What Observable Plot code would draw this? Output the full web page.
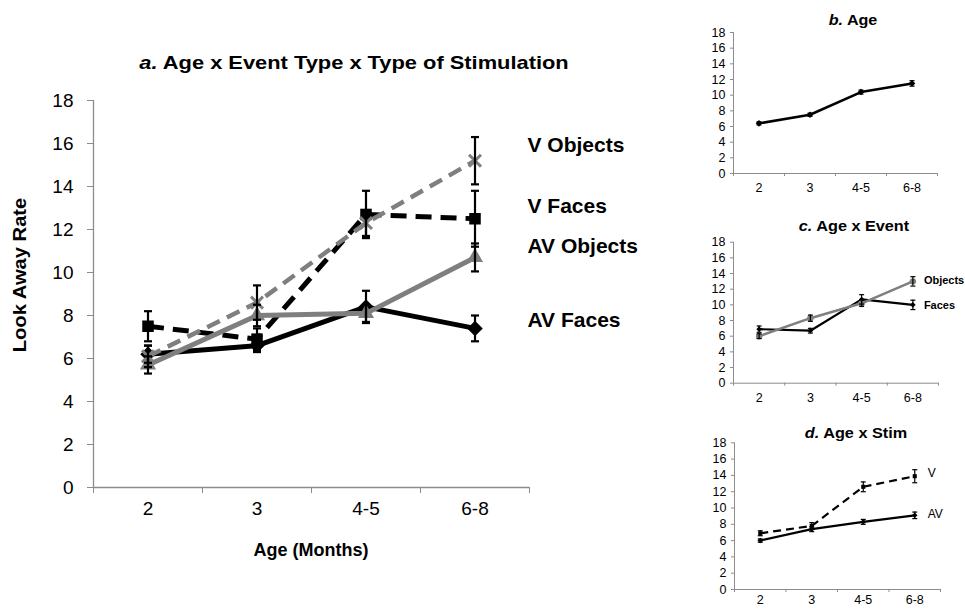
<!DOCTYPE html>
<html><head><meta charset="utf-8">
<script src="https://cdn.jsdelivr.net/npm/d3@7"></script>
<script src="https://cdn.jsdelivr.net/npm/@observablehq/plot@0.6"></script>
<style>
body{margin:0;background:#fff;font-family:"Liberation Sans",Arial,sans-serif;}
#root{position:relative;width:965px;height:610px;overflow:hidden;background:#fff;}
.p{position:absolute;}
.t{position:absolute;font-weight:bold;white-space:nowrap;color:#000;font-family:"Liberation Sans",Arial,sans-serif;line-height:1;}
svg{overflow:visible;}
svg text{font-family:"Liberation Sans",Arial,sans-serif;}
g[aria-label$="tick label"]{fill:#000;}
</style></head><body><div id="root"></div>
<script>
// ---------- data ----------
const ages = ["2", "3", "4-5", "6-8"];
const yTicks = [0, 2, 4, 6, 8, 10, 12, 14, 16, 18];

// a. Age x Event Type x Type of Stimulation
const seriesA = ["AV Faces", "V Faces", "AV Objects", "V Objects"];
const avFaces = [6.2, 6.6, 8.4, 7.4];
const avFacesErr = [0.4, 0.3, 0.75, 0.6];
const vFaces = [7.5, 6.9, 12.7, 12.5];
const vFacesErr = [0.7, 0.5, 1.1, 1.3];
const avObjects = [5.7, 8.0, 8.1, 10.7];
const avObjectsErr = [0.4, 0.5, 0.4, 0.65];
const vObjects = [6.1, 8.6, 12.3, 15.2];
const vObjectsErr = [0.5, 0.8, 0.6, 1.1];
const labelYA = [7.8, 13.1, 11.2, 15.9];

// b. Age
const seriesB = ["Age"];
const ageMeans = [6.4, 7.5, 10.4, 11.5];
const ageErr = [0.2, 0.2, 0.25, 0.35];

// c. Age x Event
const seriesC = ["Faces", "Objects"];
const eventFaces = [6.9, 6.7, 10.7, 10.0];
const eventFacesErr = [0.4, 0.3, 0.6, 0.6];
const eventObjects = [6.0, 8.3, 10.2, 13.0];
const eventObjectsErr = [0.3, 0.4, 0.4, 0.6];
const labelYC = [9.9, 13.1];

// d. Age x Stim
const seriesD = ["AV", "V"];
const stimAV = [6.0, 7.4, 8.3, 9.1];
const stimAVErr = [0.2, 0.3, 0.3, 0.4];
const stimV = [6.9, 7.8, 12.6, 13.9];
const stimVErr = [0.3, 0.4, 0.6, 0.8];
const labelYD = [9.2, 14.3];

// ---------- helpers ----------
const root = document.getElementById("root");
const cap = {draw(ctx, size) { const r = Math.sqrt(size / Math.PI); ctx.moveTo(-r, 0); ctx.lineTo(r, 0); }};

function rows(names, vals, errs) {
  return names.flatMap((s, k) => vals[k].map((v, i) => ({series: s, xi: i, y: v, err: errs[k][i]})));
}

function place(node, left, top) {
  const d = document.createElement("div");
  d.className = "p"; d.style.left = left + "px"; d.style.top = top + "px";
  d.appendChild(node); root.appendChild(d);
}
function text(html, css) {
  const d = document.createElement("div");
  d.className = "t"; d.innerHTML = html;
  Object.assign(d.style, css); root.appendChild(d);
}

function panel(cfg) {
  const data = rows(cfg.series, cfg.vals, cfg.errs);
  const marks = [
    Plot.ruleX([-0.5], {stroke: "#8c8c8c", strokeWidth: cfg.axisW}),
    Plot.ruleY([0], {stroke: "#8c8c8c", strokeWidth: cfg.axisW}),
    Plot.axisY({ticks: yTicks, tickSize: cfg.tickSize, tickPadding: cfg.yPad, fontSize: cfg.font, color: "#8c8c8c", label: null}),
    Plot.axisX({ticks: [-0.5, 0.5, 1.5, 2.5, 3.5], tickFormat: () => "", tickSize: cfg.tickSize, color: "#8c8c8c", label: null}),
    Plot.axisX({ticks: [0, 1, 2, 3], tickFormat: i => ages[i], tickSize: 0, tickPadding: cfg.xPad, fontSize: cfg.font, label: null})
  ];
  cfg.series.forEach((s, k) => {
    const st = cfg.styles[k];
    const d = data.filter(r => r.series === s);
    marks.push(Plot.line(d, {x: "xi", y: "y", stroke: st.stroke, strokeWidth: st.w, strokeDasharray: st.dash || null, strokeLinejoin: "round", strokeLinecap: st.dash ? "butt" : "round"}));
    if (st.symbol) {
      const stroked = st.symbol === "times" || st.symbol === "plus";
      marks.push(Plot.dot(d, {x: "xi", y: "y", symbol: () => st.symbol, r: st.r,
        fill: stroked ? "none" : st.stroke, stroke: stroked ? st.stroke : "none", strokeWidth: st.sw || 2}));
    }
  });
  marks.push(Plot.ruleX(data, {x: "xi", y1: d => d.y - d.err, y2: d => d.y + d.err, stroke: cfg.errColor, strokeWidth: cfg.errW}));
  marks.push(Plot.dot(data, {x: "xi", y: d => d.y - d.err, symbol: () => cap, r: cfg.capR, stroke: cfg.errColor, strokeWidth: cfg.errW, fill: "none"}));
  marks.push(Plot.dot(data, {x: "xi", y: d => d.y + d.err, symbol: () => cap, r: cfg.capR, stroke: cfg.errColor, strokeWidth: cfg.errW, fill: "none"}));
  if (cfg.labels) {
    marks.push(Plot.text(cfg.series.map((s, k) => ({s, y: cfg.labelY[k]})), {
      x: () => cfg.labelX, y: "y", text: "s", textAnchor: "start", dx: cfg.labelDx,
      fontSize: cfg.labelFont, fontWeight: cfg.labelBold ? "bold" : "normal", fill: "#000"}));
  }
  const svg = Plot.plot({
    width: cfg.width, height: cfg.height,
    marginLeft: cfg.m[3], marginRight: cfg.m[1], marginTop: cfg.m[0], marginBottom: cfg.m[2],
    x: {type: "linear", domain: [-0.5, 3.5], axis: null},
    y: {domain: [0, 18], axis: null},
    style: {background: "transparent", color: "#000", overflow: "visible"},
    marks
  });
  place(svg, cfg.left, cfg.top);
}

const gray = "#7f7f7f";

// ---------- panel a ----------
panel({
  left: 0, top: 80, width: 700, height: 460, m: [20, 171, 53, 93],
  series: seriesA, vals: [avFaces, vFaces, avObjects, vObjects], errs: [avFacesErr, vFacesErr, avObjectsErr, vObjectsErr],
  styles: [
    {stroke: "#000", w: 5, symbol: "diamond2", r: 7},
    {stroke: "#000", w: 5, dash: "16,9", symbol: "square", r: 6.5},
    {stroke: gray, w: 5, symbol: "triangle", r: 6},
    {stroke: gray, w: 4.5, dash: "14,8", symbol: "times", r: 5.5, sw: 3}
  ],
  axisW: 1.3, tickSize: 6, yPad: 14, xPad: 14, font: 19,
  errColor: "#000", errW: 2.2, capR: 4,
  labels: true, labelY: labelYA, labelX: 3.5, labelDx: -2, labelFont: 21, labelBold: true
});
text("<i>a.</i> Age x Event Type x Type of Stimulation", {left: "354px", top: "53px", fontSize: "19px", transform: "translateX(-50%) scaleX(1.15)"});
text("Age (Months)", {left: "311px", top: "541px", fontSize: "18px", transform: "translateX(-50%)"});
text("Look Away Rate", {left: "20px", top: "275px", fontSize: "18px", transform: "translate(-50%,-50%) rotate(-90deg) scaleX(1.12)"});

// ---------- small panels ----------
const small = {width: 265, height: 175, axisW: 1, tickSize: 3, yPad: 5, xPad: 10, font: 12.5, errColor: "#000", errW: 1.2, capR: 2.5};

panel(Object.assign({}, small, {
  left: 700, top: 25, m: [7, 28, 27, 33],
  series: seriesB, vals: [ageMeans], errs: [ageErr],
  styles: [{stroke: "#000", w: 2.5, symbol: "diamond2", r: 3}]
}));
text("<i>b.</i> Age", {left: "853px", top: "13px", fontSize: "14px", transform: "translateX(-50%) scaleX(1.15)"});

panel(Object.assign({}, small, {
  left: 700, top: 235, m: [6.7, 27, 27.3, 33],
  series: seriesC, vals: [eventFaces, eventObjects], errs: [eventFacesErr, eventObjectsErr],
  styles: [{stroke: "#000", w: 2.2, symbol: "diamond2", r: 2.5}, {stroke: gray, w: 2.5, symbol: "circle", r: 3.2}],
  labels: true, labelY: labelYC, labelX: 3, labelDx: 11, labelFont: 11, labelBold: true
}));
text("<i>c.</i> Age x Event", {left: "854px", top: "219px", fontSize: "14.5px", transform: "translateX(-50%) scaleX(1.12)"});

panel(Object.assign({}, small, {
  left: 700, top: 435, m: [7.3, 25, 21, 34], xPad: 6,
  series: seriesD, vals: [stimAV, stimV], errs: [stimAVErr, stimVErr],
  styles: [{stroke: "#000", w: 2.2, symbol: "diamond2", r: 2.5}, {stroke: "#000", w: 2.2, dash: "8,5", symbol: "square", r: 2.3}],
  labels: true, labelY: labelYD, labelX: 3, labelDx: 13, labelFont: 12, labelBold: false
}));
text("<i>d.</i> Age x Stim", {left: "856px", top: "426px", fontSize: "14.5px", transform: "translateX(-50%) scaleX(1.12)"});
</script></body></html>
